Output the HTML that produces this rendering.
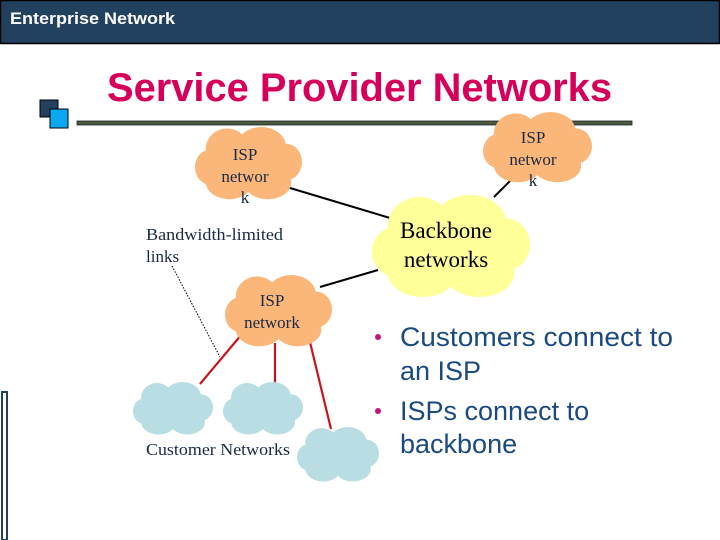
<!DOCTYPE html>
<html><head><meta charset="utf-8"><style>
html,body{margin:0;padding:0;background:#fff;}
svg{display:block;}
</style></head><body>
<svg width="720" height="540" viewBox="0 0 720 540" xmlns="http://www.w3.org/2000/svg">
<defs>
<g id="cloud">
<ellipse cx="0.5" cy="0.5" rx="0.42" ry="0.38"/>
<ellipse cx="0.3" cy="0.3" rx="0.2" ry="0.28"/>
<ellipse cx="0.62" cy="0.27" rx="0.23" ry="0.27"/>
<ellipse cx="0.85" cy="0.48" rx="0.15" ry="0.25"/>
<ellipse cx="0.14" cy="0.55" rx="0.14" ry="0.24"/>
<ellipse cx="0.32" cy="0.75" rx="0.22" ry="0.24"/>
<ellipse cx="0.68" cy="0.76" rx="0.22" ry="0.23"/>
</g>
</defs>
<rect x="0.5" y="0.5" width="719" height="43" fill="#22415f" stroke="#000" stroke-width="1.5"/>
<text x="10" y="24" font-family="Liberation Sans, sans-serif" font-size="17" font-weight="bold" fill="#fff" textLength="165" lengthAdjust="spacingAndGlyphs">Enterprise Network</text>
<text x="107" y="101" font-family="Liberation Sans, sans-serif" font-size="40" font-weight="bold" fill="#d6005a" textLength="505" lengthAdjust="spacingAndGlyphs">Service Provider Networks</text>
<rect x="40" y="100" width="18" height="17" fill="#22415f" stroke="#000"/>
<rect x="50" y="109" width="18" height="19" fill="#0aa8f0" stroke="#000"/>
<rect x="77" y="121" width="555" height="4" fill="#4a5a40" stroke="#222" stroke-width="0.8"/>
<rect x="2" y="392" width="5" height="148" fill="#fff" stroke="#22415f" stroke-width="2"/>
<!-- connectors -->
<line x1="280" y1="185" x2="390" y2="218" stroke="#000" stroke-width="2"/>
<line x1="513" y1="178" x2="494" y2="197" stroke="#000" stroke-width="2"/>
<line x1="320" y1="287" x2="378" y2="270" stroke="#000" stroke-width="2"/>
<line x1="172" y1="266" x2="220" y2="357" stroke="#000" stroke-width="1" stroke-dasharray="1.5,1.5"/>
<line x1="242" y1="334" x2="200" y2="384" stroke="#c8141e" stroke-width="2.2"/>
<line x1="275" y1="343" x2="275" y2="385" stroke="#c8141e" stroke-width="2.2"/>
<line x1="309" y1="338" x2="331" y2="429" stroke="#c8141e" stroke-width="2.2"/>
<!-- clouds -->
<use href="#cloud" fill="#fbb67a" transform="translate(195,127) scale(107,73)"/>
<use href="#cloud" fill="#fbb67a" transform="translate(483,112) scale(109,71)"/>
<use href="#cloud" fill="#ffff99" transform="translate(372,195) scale(158,103)"/>
<use href="#cloud" fill="#fbb67a" transform="translate(225,275) scale(107,72)"/>
<use href="#cloud" fill="#b8dde3" transform="translate(133,382) scale(80,53)"/>
<use href="#cloud" fill="#b8dde3" transform="translate(223,382) scale(80,53)"/>
<use href="#cloud" fill="#b8dde3" transform="translate(297,427) scale(82,55)"/>
<g font-family="Liberation Serif, serif" fill="#1a2a44" text-anchor="middle">
<text x="245" y="160" font-size="17">ISP</text>
<text x="245" y="182" font-size="17">networ</text>
<text x="245" y="203" font-size="17">k</text>
<text x="533" y="143" font-size="17">ISP</text>
<text x="533" y="165" font-size="17">networ</text>
<text x="533" y="186" font-size="17">k</text>
<text x="446" y="238" font-size="23" fill="#000">Backbone</text>
<text x="446" y="267" font-size="23" fill="#000">networks</text>
<text x="272" y="306" font-size="17">ISP</text>
<text x="272" y="328" font-size="17">network</text>
</g>
<g font-family="Liberation Serif, serif" fill="#1a2a44" font-size="17">
<text x="146" y="240" textLength="137" lengthAdjust="spacingAndGlyphs">Bandwidth-limited</text>
<text x="146" y="262">links</text>
<text x="146" y="455" textLength="144" lengthAdjust="spacingAndGlyphs">Customer Networks</text>
</g>
<g font-family="Liberation Sans, sans-serif" font-size="27" fill="#1a4a80">
<circle cx="378" cy="337" r="3" fill="#c0157a"/>
<text x="400" y="346" textLength="273" lengthAdjust="spacingAndGlyphs">Customers connect to</text>
<text x="400" y="380">an ISP</text>
<circle cx="378" cy="411" r="3" fill="#c0157a"/>
<text x="400" y="420">ISPs connect to</text>
<text x="400" y="453">backbone</text>
</g>
</svg>
</body></html>
